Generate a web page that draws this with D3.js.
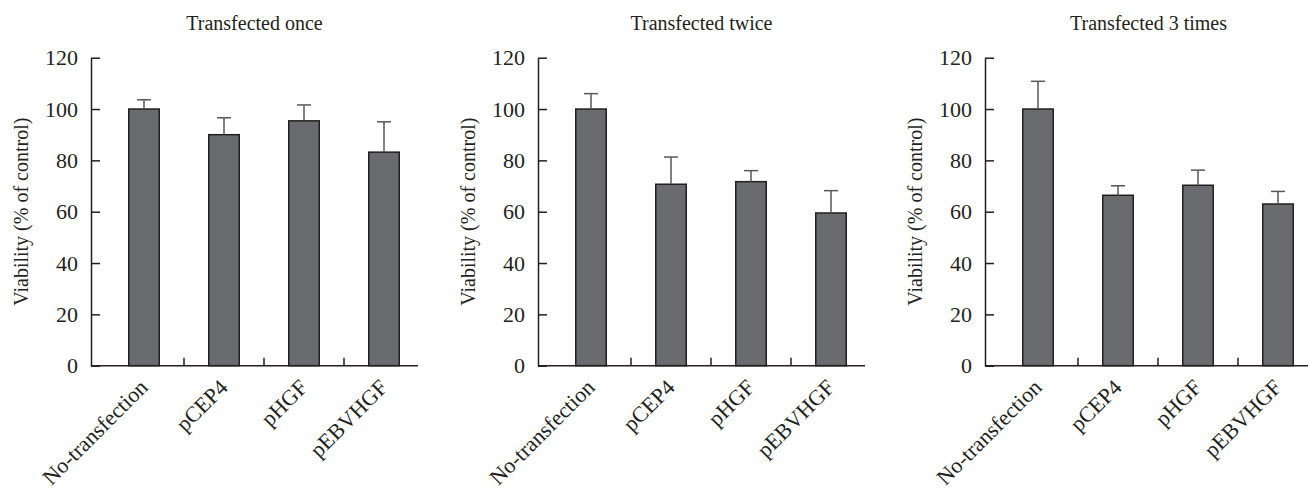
<!DOCTYPE html>
<html>
<head>
<meta charset="utf-8">
<script src="https://cdn.jsdelivr.net/npm/d3@7"></script>
<style>
  body { margin: 0; background: #fff; }
  text { font-family: "Liberation Serif", "Times New Roman", serif; fill: #231f20; }
</style>
</head>
<body>
<div id="chart"></div>
<script>
// categories & panel titles
var categories = ["No-transfection", "pCEP4", "pHGF", "pEBVHGF"];
var titles = ["Transfected once", "Transfected twice", "Transfected 3 times"];
var yTicks = [0, 20, 40, 60, 80, 100, 120];

// mean viability (% of control) and error (SD) per panel
var onceMean = [100, 90, 95.4, 83.2];
var onceErr = [3.6, 6.6, 6.2, 11.8];
var twiceMean = [100, 70.7, 71.7, 59.5];
var twiceErr = [6, 10.6, 4.3, 8.7];
var threeMean = [100, 66.4, 70.3, 63];
var threeErr = [10.8, 3.7, 5.9, 4.9];

var panels = [
  { title: titles[0], mean: onceMean, err: onceErr },
  { title: titles[1], mean: twiceMean, err: twiceErr },
  { title: titles[2], mean: threeMean, err: threeErr }
];

var W = 1308, H = 495;
var svg = d3.select("#chart").append("svg")
  .attr("width", W)
  .attr("height", H);

var y = d3.scaleLinear().domain([0, 120]).range([365.7, 57.7]);

panels.forEach(function (p, i) {
  var x0 = 91 + i * 447;
  var axisLen = 327;
  var g = svg.append("g").attr("transform", "translate(" + x0 + ",0)");

  var x = d3.scaleBand()
    .domain(categories)
    .range([13, 13 + 4 * 80])
    .padding(0);
  var barW = 30.5;

  // title
  g.append("text")
    .attr("x", axisLen / 2)
    .attr("y", 30)
    .attr("text-anchor", "middle")
    .style("font-size", "20px")
    .text(p.title);

  // y axis (ticks point inward)
  var yAxis = g.append("g")
    .call(d3.axisLeft(y).tickValues(yTicks).tickSizeInner(-9).tickSizeOuter(0).tickPadding(13));
  yAxis.attr("font-family", null).attr("font-size", null);
  yAxis.selectAll("path, line").attr("stroke", "#231f20").attr("stroke-width", 1.5);
  yAxis.selectAll("text")
    .style("font-size", "22px")
    .attr("fill", "#231f20");

  g.append("text")
    .attr("transform", "translate(-63," + y(60) + ") rotate(-90)")
    .attr("text-anchor", "middle")
    .style("font-size", "20px")
    .text("Viability (% of control)");

  // bars
  g.selectAll("rect.bar")
    .data(categories)
    .enter()
    .append("rect")
    .attr("class", "bar")
    .attr("x", function (d) { return x(d) + (x.bandwidth() - barW) / 2; })
    .attr("y", function (d, k) { return y(p.mean[k]); })
    .attr("width", barW)
    .attr("height", function (d, k) { return y(0) - y(p.mean[k]); })
    .attr("fill", "#6a6b6f")
    .attr("stroke", "#231f20")
    .attr("stroke-width", 1.5);

  // error bars
  var eb = g.selectAll("g.err")
    .data(categories)
    .enter()
    .append("g")
    .attr("class", "err");
  eb.append("line")
    .attr("x1", function (d) { return x(d) + x.bandwidth() / 2; })
    .attr("x2", function (d) { return x(d) + x.bandwidth() / 2; })
    .attr("y1", function (d, k) { return y(p.mean[k]); })
    .attr("y2", function (d, k) { return y(p.mean[k] + p.err[k]); })
    .attr("stroke", "#58585a")
    .attr("stroke-width", 1.5);
  eb.append("line")
    .attr("x1", function (d) { return x(d) + x.bandwidth() / 2 - 7; })
    .attr("x2", function (d) { return x(d) + x.bandwidth() / 2 + 7; })
    .attr("y1", function (d, k) { return y(p.mean[k] + p.err[k]); })
    .attr("y2", function (d, k) { return y(p.mean[k] + p.err[k]); })
    .attr("stroke", "#58585a")
    .attr("stroke-width", 1.5);

  // x axis baseline and between-category ticks
  g.append("line")
    .attr("x1", 0).attr("x2", axisLen)
    .attr("y1", y(0)).attr("y2", y(0))
    .attr("stroke", "#231f20")
    .attr("stroke-width", 1.5);
  g.selectAll("line.xtick")
    .data(categories.slice(1))
    .enter()
    .append("line")
    .attr("class", "xtick")
    .attr("x1", function (d) { return x(d); })
    .attr("x2", function (d) { return x(d); })
    .attr("y1", y(0))
    .attr("y2", y(0) - 8)
    .attr("stroke", "#231f20")
    .attr("stroke-width", 1.5);

  // rotated category labels
  g.selectAll("text.xlab")
    .data(categories)
    .enter()
    .append("text")
    .attr("class", "xlab")
    .attr("text-anchor", "end")
    .attr("transform", function (d) {
      return "translate(" + (x(d) + x.bandwidth() / 2 + 5) + "," + (y(0) + 23) + ") rotate(-45)";
    })
    .style("font-size", "22px")
    .text(function (d) { return d; });
});
</script>
</body>
</html>
